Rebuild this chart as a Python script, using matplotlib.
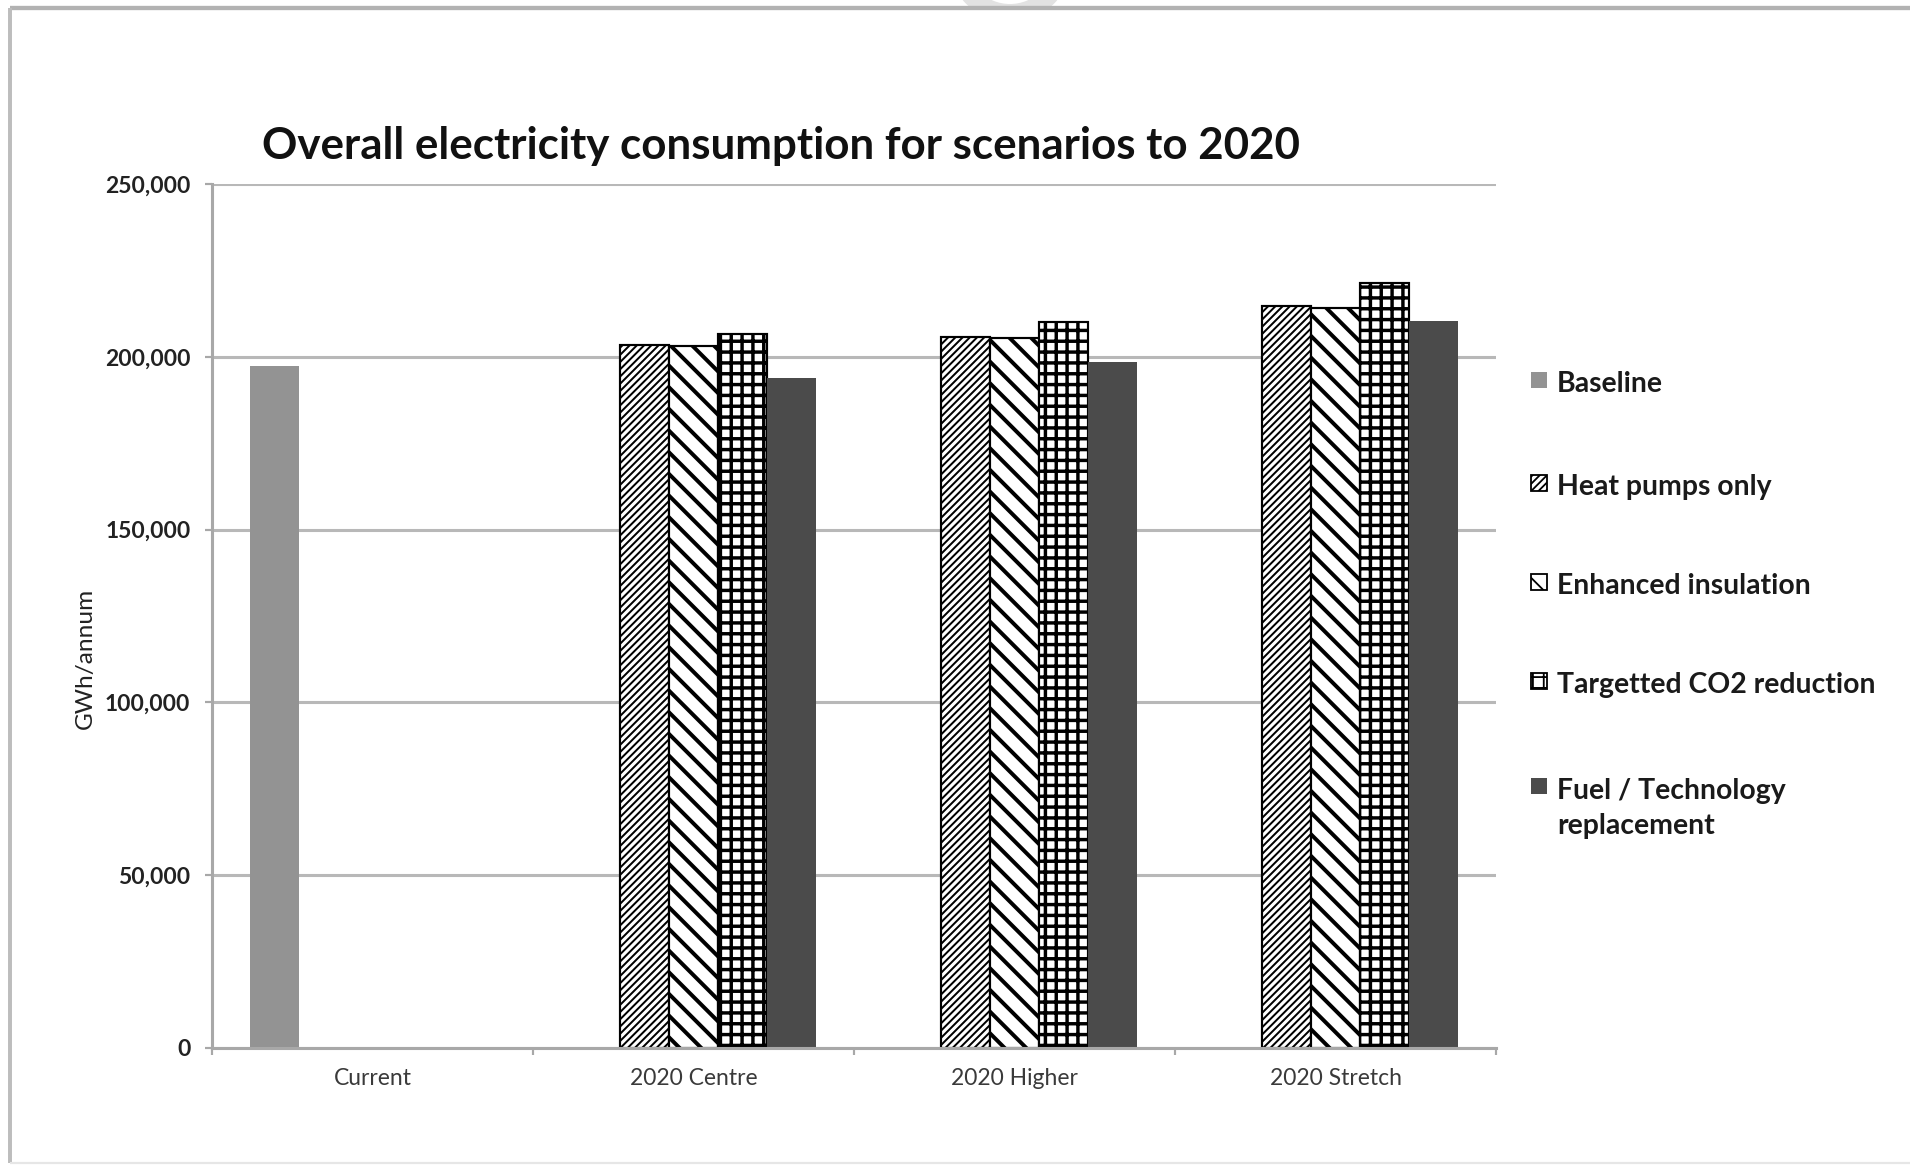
import numpy as np
import matplotlib.pyplot as plt
from matplotlib.patches import Rectangle, Wedge
from matplotlib.ticker import FuncFormatter, FixedLocator

# данные, GWh/annum
categories = ['Current', '2020 Centre', '2020 Higher', '2020 Stretch']
baseline = [197300, np.nan, np.nan, np.nan]
heat_pumps = [np.nan, 203400, 205600, 214800]
enhanced_ins = [np.nan, 203100, 205300, 214000]
targetted_co2 = [np.nan, 206500, 210200, 221400]
fuel_tech = [np.nan, 193800, 198400, 210500]

names = ['Baseline', 'Heat pumps only', 'Enhanced insulation',
         'Targetted CO2 reduction', 'Fuel / Technology\nreplacement']
series = [baseline, heat_pumps, enhanced_ins, targetted_co2, fuel_tech]

# стиль каждой серии: заливка, штриховка, толщина штриховки
face = ['#939393', 'white', 'white', 'white', '#4b4b4b']
edge = ['#939393', 'black', 'black', 'black', '#4b4b4b']
hatch = [None, '//////', '\\\\', '++', None]
hatch_lw = [1.0, 1.1, 2.2, 1.9, 1.0]
edge_lw = [0, 1.2, 1.2, 1.2, 0]

DPI = 130
W, H = 1910, 1170
plt.rcParams['font.family'] = ['Lato', 'DejaVu Sans']

fig = plt.figure(figsize=(W / DPI, H / DPI), dpi=DPI)

# фон в пикселях: рамка
bg = fig.add_axes([0, 0, 1, 1], zorder=0)
bg.set_xlim(0, W)
bg.set_ylim(H, 0)
bg.axis('off')
ring = Wedge((1010, -40), 62, 0, 360, width=18, color='#e2e2e2', lw=0)
bg.add_patch(ring)
ring.set_clip_path(Rectangle((0, 0), W, 8, transform=bg.transData))
bg.plot([10, W], [8, 8], color='#b2b2b2', lw=2.4, solid_capstyle='butt')
bg.plot([10, 10], [8, 1163], color='#bdbdbd', lw=2.2, solid_capstyle='butt')
bg.plot([10, W], [1163, 1163], color='#e6e6e6', lw=1.2, solid_capstyle='butt')

# основной график
x0, x1, y0, y1 = 212, 1496, 184, 1048
ax = fig.add_axes([x0 / W, (H - y1) / H, (x1 - x0) / W, (y1 - y0) / H], zorder=1)

x = np.arange(len(categories))
w = 0.1526
for i in range(len(series)):
    with plt.rc_context({'hatch.linewidth': hatch_lw[i]}):
        bars = ax.bar(x + (i - 2) * w, series[i], w, color=face[i],
                      edgecolor=edge[i], hatch=hatch[i], linewidth=edge_lw[i], zorder=3)
    for b in bars:
        if hasattr(b, 'set_hatch_linewidth'):
            b.set_hatch_linewidth(hatch_lw[i])

ax.set_xlim(-0.5, len(categories) - 0.5)
ax.set_ylim(0, 250000)
ax.set_yticks(np.arange(0, 250001, 50000))
ax.yaxis.set_major_formatter(FuncFormatter(lambda v, p: f'{v:,.0f}'))
ax.grid(axis='y', color='#b8b8b8', lw=1.7, zorder=0)
ax.set_axisbelow(True)

for s in ['top', 'right']:
    ax.spines[s].set_visible(False)
for s in ['left', 'bottom']:
    ax.spines[s].set_color('#a8a8a8')
    ax.spines[s].set_linewidth(1.7)
    ax.spines[s].set_zorder(4)

ax.set_xticks(x)
ax.set_xticklabels(categories, fontsize=12.7, color='#3a3a3a')
ax.xaxis.set_minor_locator(FixedLocator(np.arange(-0.5, len(categories), 1)))
ax.tick_params(axis='x', which='major', length=0, pad=11)
ax.tick_params(axis='x', which='minor', length=4, width=1.2, color='#a8a8a8')
ax.tick_params(axis='y', length=4, width=1.2, color='#a8a8a8', pad=8,
               labelsize=12.7, labelcolor='#222222')
for t in ax.get_yticklabels():
    t.set_fontweight('bold')

ax.set_ylabel('GWh/annum', fontsize=13.5, color='#222222', va='center')
ax.yaxis.set_label_coords((85 - x0) / (x1 - x0), (y1 - 658) / (y1 - y0))

fig.text(262 / W, 1 - 146 / H, 'Overall electricity consumption for scenarios to 2020',
         ha='left', va='center', fontsize=24.3, fontweight='bold', color='#111111')

# легенда
leg_base = [392, 495, 594, 693, 798]
for i, name in enumerate(names):
    yb = leg_base[i]
    with plt.rc_context({'hatch.linewidth': 1.0}):
        mk = Rectangle((1531, yb - 20), 16, 16, facecolor=face[i], edgecolor=edge[i],
                       hatch=hatch[i], lw=1.0 if hatch[i] else 0)
    bg.add_patch(mk)
    nl = name.count('\n')
    bg.text(1557, yb + 36 * nl, name, ha='left', va='baseline', fontsize=15.7,
            fontweight='bold', color='#1a1a1a', linespacing=1.45)

fig.savefig('out.png', dpi=DPI)
